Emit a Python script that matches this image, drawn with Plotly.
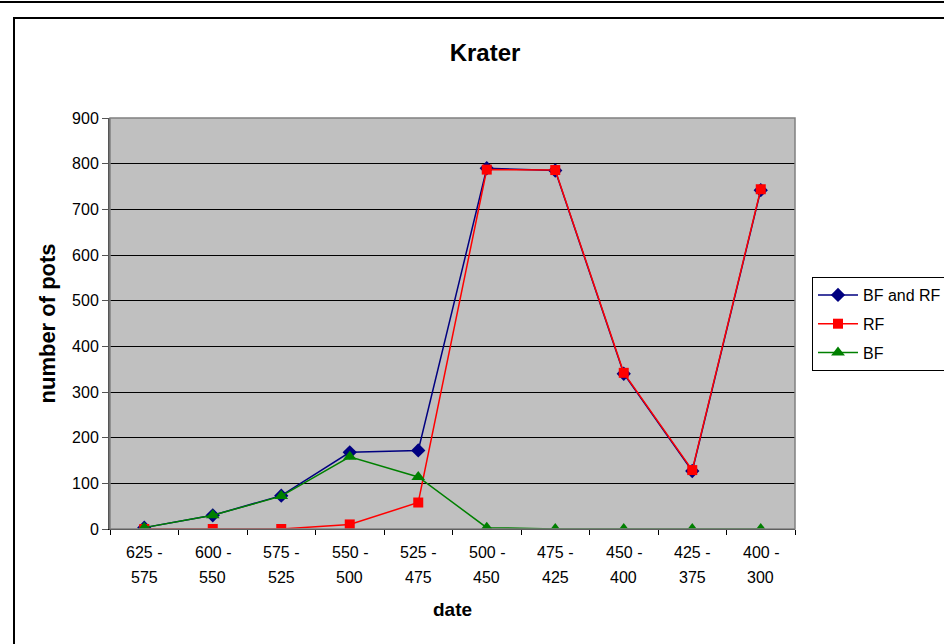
import plotly.graph_objects as go

categories = ["625 - 575", "600 - 550", "575 - 525", "550 - 500", "525 - 475",
              "500 - 450", "475 - 425", "450 - 400", "425 - 375", "400 - 300"]
label_top = ["625 -", "600 -", "575 -", "550 -", "525 -", "500 -", "475 -", "450 -", "425 -", "400 -"]
label_bottom = ["575", "550", "525", "500", "475", "450", "425", "400", "375", "300"]

bf_and_rf = [3, 30, 73, 168, 172, 790, 785, 340, 127, 742]
rf = [0, 0, 0, 10, 58, 787, 786, 342, 129, 744]
bf = [3, 30, 72, 158, 114, 3, 0, 0, 0, 0]

FONT = "Liberation Sans, Arial, sans-serif"

fig = go.Figure()
fig.add_trace(go.Scatter(x=categories, y=bf_and_rf, name="BF and RF", mode="lines+markers",
                         line=dict(color="#000080", width=1.5),
                         marker=dict(symbol="diamond", size=11, color="#000080"),
                         legendgroup="a"))
fig.add_trace(go.Scatter(x=categories, y=rf, name="RF", mode="lines+markers",
                         line=dict(color="#FF0000", width=1.5),
                         marker=dict(symbol="square", size=10, color="#FF0000"),
                         legendgroup="b"))
fig.add_trace(go.Scatter(x=categories, y=bf, name="BF", mode="lines+markers",
                         line=dict(color="#008000", width=1.5),
                         marker=dict(symbol="triangle-up", size=12, color="#008000"),
                         legendgroup="c"))

L, R, T, B = 110, 149, 118, 115
W, H = 944, 644
pw, ph = W - L - R, H - T - B

def px_x(p):
    return (p - L) / pw

def px_y(p):
    return (H - B - p) / ph

annotations = []
for c, t1, t2 in zip(categories, label_top, label_bottom):
    annotations.append(dict(x=c, xref="x", y=px_y(552), yref="paper", text=t1,
                            showarrow=False, yanchor="middle",
                            font=dict(family=FONT, size=16, color="black")))
    annotations.append(dict(x=c, xref="x", y=px_y(577), yref="paper", text=t2,
                            showarrow=False, yanchor="middle",
                            font=dict(family=FONT, size=16, color="black")))
annotations.append(dict(x=px_x(452), xref="paper", y=px_y(609), yref="paper", text="<b>date</b>",
                        showarrow=False, yanchor="middle",
                        font=dict(family=FONT, size=19, color="black")))
annotations.append(dict(x=px_x(47), xref="paper", y=0.5, yref="paper", text="<b>number of pots</b>",
                        showarrow=False, textangle=-90, xanchor="center", yanchor="middle",
                        font=dict(family=FONT, size=22, color="black")))

shapes = [
    dict(type="rect", xref="paper", yref="paper", x0=px_x(14), x1=px_x(970), y0=px_y(670), y1=px_y(18),
         line=dict(color="black", width=2), layer="below"),
    dict(type="line", xref="paper", yref="paper", x0=px_x(-10), x1=px_x(960), y0=px_y(2), y1=px_y(2),
         line=dict(color="black", width=2)),
    dict(type="rect", xref="paper", yref="paper", x0=0, x1=1, y0=0, y1=1,
         line=dict(color="#808080", width=1.5)),
]

fig.update_layout(
    width=W, height=H,
    margin=dict(l=L, r=R, t=T, b=B, autoexpand=False),
    paper_bgcolor="white",
    plot_bgcolor="#C0C0C0",
    font=dict(family=FONT, size=16, color="black"),
    title=dict(text="<b>Krater</b>", x=485 / W, xanchor="center", y=1 - 53 / H, yanchor="middle",
               font=dict(family=FONT, size=24, color="black")),
    xaxis=dict(type="category", range=[-0.5, len(categories) - 0.5], autorange=False,
               showgrid=False, showticklabels=False,
               ticks="outside", tickson="boundaries", ticklen=5, tickcolor="black",
               showline=True, linecolor="black", linewidth=1, zeroline=False),
    yaxis=dict(range=[0, 900], autorange=False, dtick=100, showgrid=True, gridcolor="black", gridwidth=1,
               ticks="outside", ticklen=6, tickcolor="#555555",
               showline=True, linecolor="#555555", linewidth=2, zeroline=False,
               tickfont=dict(family=FONT, size=16, color="black")),
    legend=dict(x=px_x(812), xanchor="left", y=px_y(324), yanchor="middle",
                bgcolor="white", bordercolor="black", borderwidth=1,
                font=dict(family=FONT, size=16, color="black"),
                tracegroupgap=5, itemwidth=40),
    annotations=annotations,
    shapes=shapes,
)

fig.write_html("out.html", config={"displayModeBar": False},
               post_script="document.body.style.margin='0';")
